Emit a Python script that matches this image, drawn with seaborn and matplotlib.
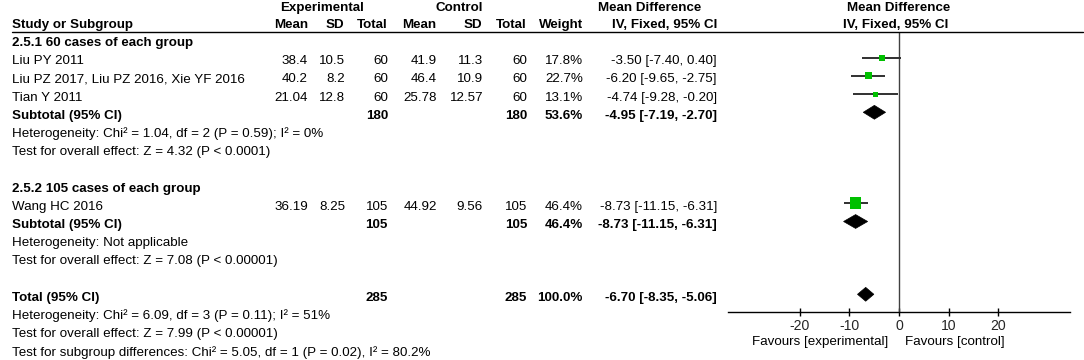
#!/usr/bin/env python3
## forest plot: experimental vs control, mean difference (IV, fixed)

import matplotlib
matplotlib.use("Agg")
import matplotlib.pyplot as plt
from matplotlib.lines import Line2D
from matplotlib.patches import Polygon
import seaborn as sns

# study data
studies = ["Liu PY 2011", "Liu PZ 2017, Liu PZ 2016, Xie YF 2016", "Tian Y 2011", "Wang HC 2016"]
exp_mean = [38.4, 40.2, 21.04, 36.19]
exp_sd = [10.5, 8.2, 12.8, 8.25]
exp_n = [60, 60, 60, 105]
ctl_mean = [41.9, 46.4, 25.78, 44.92]
ctl_sd = [11.3, 10.9, 12.57, 9.56]
ctl_n = [60, 60, 60, 105]
weights = [17.8, 22.7, 13.1, 46.4]
md = [-3.50, -6.20, -4.74, -8.73]
ci_lo = [-7.40, -9.65, -9.28, -11.15]
ci_hi = [0.40, -2.75, -0.20, -6.31]
study_rows = [1, 2, 3, 9]

# subgroups
sub_names = ["2.5.1 60 cases of each group", "2.5.2 105 cases of each group"]
sub_n = [180, 105]
sub_weight = [53.6, 46.4]
sub_md = [-4.95, -8.73]
sub_lo = [-7.19, -11.15]
sub_hi = [-2.70, -6.31]
sub_het = ["Heterogeneity: Chi\u00b2 = 1.04, df = 2 (P = 0.59); I\u00b2 = 0%",
           "Heterogeneity: Not applicable"]
sub_test = ["Test for overall effect: Z = 4.32 (P < 0.0001)",
            "Test for overall effect: Z = 7.08 (P < 0.00001)"]
sub_title_rows = [0, 8]
sub_rows = [4, 10]

# overall
total_n = 285
total_weight = 100.0
total_md = -6.70
total_lo = -8.35
total_hi = -5.06
total_row = 14
total_notes = ["Heterogeneity: Chi\u00b2 = 6.09, df = 3 (P = 0.11); I\u00b2 = 51%",
               "Test for overall effect: Z = 7.99 (P < 0.00001)",
               "Test for subgroup differences: Chi\u00b2 = 5.05, df = 1 (P = 0.02), I\u00b2 = 80.2%"]
xticks = [-20, -10, 0, 10, 20]

sns.set_style("white")
plt.rcParams['font.family'] = ['Liberation Sans', 'DejaVu Sans']

W, H = 1084, 360
fig = plt.figure(figsize=(W / 100, H / 100), dpi=100)
FS = 9.6

def row_y(r):
    return 43 + 18.2 * r

def txt(x, y, s, ha="left", bold=False):
    fig.text(x / W, 1 - y / H, s, ha=ha, va="center", fontsize=FS,
             fontweight="bold" if bold else "normal", color="black")

# header
txt(322, 8, "Experimental", ha="center", bold=True)
txt(459, 8, "Control", ha="center", bold=True)
txt(650, 8, "Mean Difference", ha="center", bold=True)
txt(899, 8, "Mean Difference", ha="center", bold=True)
txt(12, 25, "Study or Subgroup", bold=True)
cols = [(308, "Mean"), (344, "SD"), (388, "Total"), (436, "Mean"), (482, "SD"),
        (527, "Total"), (583, "Weight"), (717, "IV, Fixed, 95% CI")]
for x, s in cols:
    txt(x, 25, s, ha="right", bold=True)
txt(896, 25, "IV, Fixed, 95% CI", ha="center", bold=True)
fig.add_artist(Line2D([12 / W, 1083 / W], [1 - 32 / H, 1 - 32 / H], color="black", lw=1))

# study rows
for i, r in enumerate(study_rows):
    y = row_y(r)
    txt(12, y, studies[i])
    txt(308, y, str(exp_mean[i]), ha="right")
    txt(345, y, str(exp_sd[i]), ha="right")
    txt(388, y, str(exp_n[i]), ha="right")
    txt(437, y, str(ctl_mean[i]), ha="right")
    txt(483, y, str(ctl_sd[i]), ha="right")
    txt(527, y, str(ctl_n[i]), ha="right")
    txt(583, y, "%.1f%%" % weights[i], ha="right")
    txt(717, y, "%.2f [%.2f, %.2f]" % (md[i], ci_lo[i], ci_hi[i]), ha="right")

# subgroup rows
for j in range(2):
    txt(12, row_y(sub_title_rows[j]), sub_names[j], bold=True)
    y = row_y(sub_rows[j])
    txt(12, y, "Subtotal (95% CI)", bold=True)
    txt(388, y, str(sub_n[j]), ha="right", bold=True)
    txt(527, y, str(sub_n[j]), ha="right", bold=True)
    txt(583, y, "%.1f%%" % sub_weight[j], ha="right", bold=True)
    txt(717, y, "%.2f [%.2f, %.2f]" % (sub_md[j], sub_lo[j], sub_hi[j]), ha="right", bold=True)
    txt(12, row_y(sub_rows[j] + 1), sub_het[j])
    txt(12, row_y(sub_rows[j] + 2), sub_test[j])

# total rows
y = row_y(total_row)
txt(12, y, "Total (95% CI)", bold=True)
txt(388, y, str(total_n), ha="right", bold=True)
txt(527, y, str(total_n), ha="right", bold=True)
txt(583, y, "%.1f%%" % total_weight, ha="right", bold=True)
txt(717, y, "%.2f [%.2f, %.2f]" % (total_md, total_lo, total_hi), ha="right", bold=True)
for k, s in enumerate(total_notes):
    txt(12, row_y(total_row + 1 + k), s)

# forest axis
ax_left, ax_right, ax_top, ax_bot = 728, 1070, 32, 312
ax = fig.add_axes([ax_left / W, 1 - ax_bot / H, (ax_right - ax_left) / W, (ax_bot - ax_top) / H])
off = 3.5
ax.set_ylim((ax_bot - 43 + off) / 18.2, (ax_top - 43 + off) / 18.2)
ax.set_xlim(-34.4, 34.4)
ax.axvline(0, color="#404040", lw=1)

ax.hlines(study_rows, ci_lo, ci_hi, color="#303030", lw=1.4, zorder=2)
sizes = {w: ((2.5 + 0.2 * w) * 0.72) ** 2 for w in weights}
sns.scatterplot(x=md, y=study_rows, size=weights, sizes=sizes, marker="s",
                color="#00c000", linewidth=0, legend=False, ax=ax, zorder=3)

hh = 0.38
for m, lo, hi, r in zip(sub_md + [total_md], sub_lo + [total_lo], sub_hi + [total_hi],
                        sub_rows + [total_row]):
    ax.add_patch(Polygon([(lo, r), (m, r - hh), (hi, r), (m, r + hh)],
                         closed=True, facecolor="black", edgecolor="black", lw=0.5))

sns.despine(ax=ax, left=True, top=True, right=True)
ax.spines["bottom"].set_color("black")
ax.spines["bottom"].set_linewidth(1)
ax.set_yticks([])
ax.set_xticks(xticks)
ax.set_xticklabels([str(t) for t in xticks])
ax.tick_params(axis="x", direction="inout", length=6, width=1, color="black",
               labelsize=FS + 0.5, pad=2, bottom=True)
ax.patch.set_alpha(0)

txt(888, 342, "Favours [experimental]", ha="right")
txt(905, 342, "Favours [control]", ha="left")

fig.savefig("out.png", dpi=100)
plt.close(fig)
